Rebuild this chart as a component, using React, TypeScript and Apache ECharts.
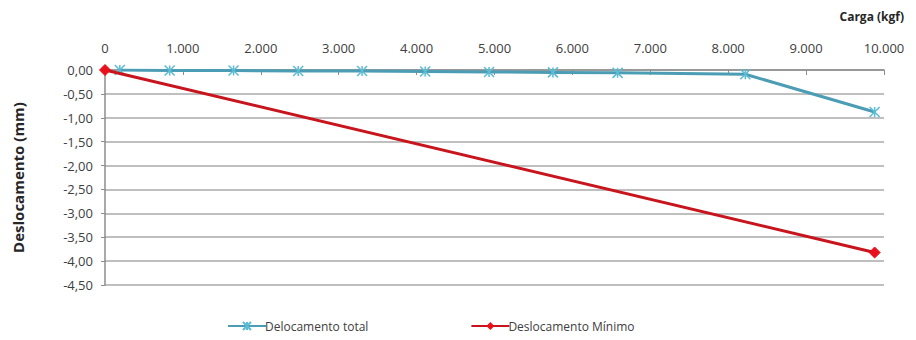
import React, { useEffect, useRef } from "react";
import * as echarts from "echarts";

// Load (kgf) at each reading and the measured displacements (mm)
const totalLoads = [190, 830, 1650, 2480, 3300, 4110, 4930, 5750, 6580, 8220, 9880];
const totalDisp = [0.0, -0.01, -0.01, -0.02, -0.02, -0.03, -0.04, -0.05, -0.06, -0.09, -0.88];
const minLoads = [0, 9880];
const minDisp = [0.0, -3.82];

const xTicks = { min: 0, max: 10000, interval: 1000 };
const yTicks = { min: -4.5, max: 0, interval: 0.5 };

const FONT = "'Open Sans', 'Noto Sans', sans-serif";

const fmtThousands = (v: number) =>
  v === 0 ? "0" : Math.round(v).toString().replace(/\B(?=(\d{3})+(?!\d))/g, ".");
const fmtDecimal = (v: number) => v.toFixed(2).replace(".", ",");

const STAR = "path://M0,0L10,10M10,0L0,10M5,0L5,10";

export default function App() {
  const ref = useRef<HTMLDivElement>(null);

  useEffect(() => {
    if (!ref.current) return;
    const chart = echarts.init(ref.current, undefined, { renderer: "svg" });
    chart.setOption({
      animation: false,
      backgroundColor: "#ffffff",
      textStyle: { fontFamily: FONT },
      grid: { left: 105, right: 32, top: 70, bottom: 55, containLabel: false },
      legend: {
        bottom: 3,
        left: 222,
        itemWidth: 38,
        itemHeight: 10,
        itemGap: 102,
        textStyle: { fontFamily: FONT, fontSize: 12, color: "#404040", padding: [0, 0, 0, -6] },
        data: ["Delocamento total", "Deslocamento Mínimo"],
      },
      graphic: [
        {
          type: "text",
          right: 12,
          top: 10,
          style: { text: "Carga (kgf)", font: `bold 12px ${FONT}`, fill: "#262626" },
        },
      ],
      xAxis: {
        type: "value",
        position: "top",
        min: xTicks.min,
        max: xTicks.max,
        interval: xTicks.interval,
        axisLine: { onZero: false, lineStyle: { color: "#8c8c8c", width: 1.5 } },
        axisTick: { show: true, inside: true, length: 5, lineStyle: { color: "#8c8c8c" } },
        splitLine: { show: false },
        axisLabel: { formatter: fmtThousands, fontSize: 13, color: "#404040", margin: 16, fontFamily: FONT },
      },
      yAxis: {
        type: "value",
        min: yTicks.min,
        max: yTicks.max,
        interval: yTicks.interval,
        name: "Deslocamento (mm)",
        nameLocation: "middle",
        nameGap: 80,
        nameTextStyle: { fontSize: 15, fontWeight: "bold", color: "#262626", fontFamily: FONT },
        axisLine: { show: true, lineStyle: { color: "#8c8c8c", width: 1.5 } },
        axisTick: { show: true, length: 4, lineStyle: { color: "#8c8c8c" } },
        splitLine: { show: true, lineStyle: { color: "#bfbfbf", width: 2 } },
        axisLabel: { formatter: fmtDecimal, fontSize: 13, color: "#404040", margin: 12, fontFamily: FONT },
      },
      series: [
        {
          name: "Delocamento total",
          type: "line",
          data: totalLoads.map((x, i) => [x, totalDisp[i]]),
          symbol: STAR,
          symbolSize: 10,
          showAllSymbol: true,
          lineStyle: { color: "#4a9db4", width: 3 },
          itemStyle: { color: "rgba(0,0,0,0)", borderColor: "#5bbcd4", borderWidth: 1.5 },
          z: 2,
        },
        {
          name: "Deslocamento Mínimo",
          type: "line",
          data: minLoads.map((x, i) => [x, minDisp[i]]),
          symbol: "diamond",
          symbolSize: 11,
          lineStyle: { color: "#c8141c", width: 3 },
          itemStyle: { color: "#e8101a", borderColor: "#e8101a" },
          z: 3,
        },
      ],
    });
    return () => chart.dispose();
  }, []);

  return (
    <div
      ref={ref}
      style={{ position: "fixed", left: 0, top: 0, width: 916, height: 340 }}
    />
  );
}
